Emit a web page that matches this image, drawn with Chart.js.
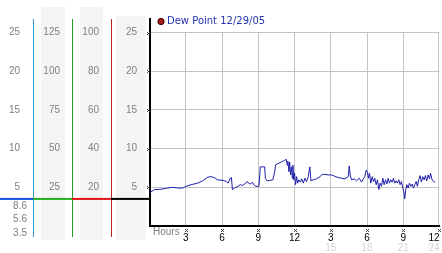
<!DOCTYPE html>
<html>
<head>
<meta charset="utf-8">
<script src="https://cdn.jsdelivr.net/npm/chart.js@4/dist/chart.umd.min.js"></script>
<style>
  html, body { margin: 0; padding: 0; background: #fff; }
  #wrap { position: relative; width: 442px; height: 253px; }
</style>
</head>
<body>
<div id="wrap"><canvas id="dewChart"></canvas></div>
<script>
const hours = [
  0.00, 0.41, 0.96, 1.51, 1.93, 2.34, 2.75, 3.02, 3.44, 3.99,
  4.40, 4.81, 5.09, 5.36, 5.64, 6.08, 6.36, 6.50, 6.69, 6.78,
  6.86, 7.05, 7.32, 7.52, 7.69, 7.88, 8.07, 8.23, 8.35, 8.51,
  8.62, 8.79, 9.06, 9.17, 9.53, 9.59, 9.72, 9.94, 10.21, 10.36,
  10.44, 10.63, 10.91, 11.18, 11.32, 11.40, 11.45, 11.54, 11.60, 11.68,
  11.76, 11.82, 11.87, 11.93, 12.01, 12.09, 12.17, 12.26, 12.36, 12.48,
  12.59, 12.73, 12.86, 13.00, 13.14, 13.27, 13.36, 13.55, 13.83, 14.10,
  14.30, 14.51, 14.79, 15.07, 15.34, 15.62, 15.89, 16.17, 16.45, 16.53,
  16.61, 16.72, 16.94, 17.13, 17.36, 17.55, 17.69, 17.82, 17.93, 18.04,
  18.12, 18.21, 18.31, 18.43, 18.54, 18.64, 18.76, 18.87, 18.98, 19.09,
  19.20, 19.31, 19.42, 19.53, 19.64, 19.75, 19.86, 19.97, 20.08, 20.19,
  20.30, 20.41, 20.52, 20.63, 20.74, 20.85, 20.96, 21.04, 21.12, 21.21,
  21.29, 21.40, 21.51, 21.62, 21.74, 21.84, 21.95, 22.07, 22.17, 22.28,
  22.40, 22.50, 22.61, 22.73, 22.83, 22.94, 23.06, 23.17, 23.26, 23.39,
  23.50, 23.64,
];
const dewPoint = [
  4.28, 4.71, 4.75, 4.91, 5.00, 4.91, 4.91, 5.13, 5.34, 5.54,
  5.84, 6.30, 6.38, 6.26, 5.97, 5.90, 5.75, 5.54, 6.17, 6.26,
  4.71, 4.91, 5.13, 5.34, 5.25, 5.42, 5.75, 5.54, 5.42, 5.63,
  5.34, 5.13, 5.13, 7.64, 7.64, 6.17, 5.84, 5.88, 5.97, 7.01,
  7.93, 8.06, 8.27, 8.48, 8.61, 7.86, 8.36, 7.01, 8.27, 6.60,
  7.64, 6.17, 7.86, 5.97, 6.80, 5.34, 6.38, 5.54, 5.97, 5.67,
  6.09, 5.54, 6.17, 5.75, 6.38, 7.64, 5.84, 5.97, 6.09, 6.38,
  6.67, 6.67, 6.60, 6.60, 6.42, 6.26, 6.17, 6.09, 6.38, 7.77,
  6.60, 5.97, 6.09, 5.84, 6.17, 5.67, 6.09, 6.38, 7.23, 7.01,
  6.17, 6.80, 5.54, 6.38, 5.75, 6.17, 5.34, 5.97, 4.71, 5.54,
  5.13, 6.17, 5.34, 5.97, 5.42, 6.17, 5.54, 5.97, 5.67, 6.17,
  5.54, 5.84, 5.54, 5.97, 5.34, 5.75, 4.91, 4.50, 3.50, 4.71,
  5.34, 4.91, 5.54, 5.13, 5.42, 4.91, 5.34, 5.75, 5.13, 5.97,
  6.51, 5.67, 6.38, 5.97, 6.51, 5.84, 6.60, 6.09, 6.80, 5.97,
  5.75, 5.67,
];

// tick 0 carries an empty label so "inner" alignment only affects the last one
const hourTicks = [0, 3, 6, 9, 12, 15, 18, 21, 24];
const hourLabels = ["", "3", "6", "9", "12", "3", "6", "9", "12"];
const lateHourTicks = [0, 15, 18, 21, 24];
const lateHourLabels = ["", "15", "18", "21", "24"];

const dewTicks = [5, 10, 15, 20, 25];
const dewTicksX5 = [25, 50, 75, 100, 125];
const dewTicksX4 = [20, 40, 60, 80, 100];
const dewMax = 26.75;

const statLabels = ["8.6", "5.6", "3.5"];
const dewMin = 3.5;

const labelFont = { family: "Liberation Sans", size: 10 };
const gridColor = "#c4c4c4";

const setTicks = (values) => (scale) => {
  scale.ticks = values.map((value) => ({ value }));
};
const fixWidth = (w) => (scale) => {
  scale.width = w;
};
const fixHeight = (h) => (scale) => {
  scale.height = h;
  scale.paddingLeft = 0;
  scale.paddingRight = 0;
};

const sideAxis = (weight, max, ticks, width, padding) => ({
  position: "left",
  weight,
  min: 0,
  max,
  afterBuildTicks: setTicks(ticks),
  afterFit: fixWidth(width),
  grid: { display: false, drawTicks: false },
  border: { display: false },
  ticks: { color: "#808080", padding, font: labelFont },
});

// grey column backgrounds + colored rule lines on the left side
const columns = [
  { id: "yA", color: "#2a9fd6", rule: "#1450e0", bg: null },
  { id: "yB", color: "#22a022", rule: "#22b022", bg: [8, 7, 7] },
  { id: "yC", color: "#c02222", rule: "#e01414", bg: [8, 8, 7] },
  { id: "y", color: null, rule: "#000000", bg: [5, 4, 16] },
];

const sidePlugin = {
  id: "sideColumns",
  beforeDraw(chart) {
    const { ctx, scales } = chart;
    ctx.save();
    ctx.fillStyle = "#f4f4f4";
    columns.forEach((col) => {
      if (!col.bg) return;
      const s = scales[col.id];
      const [l, r, top] = col.bg;
      ctx.fillRect(s.left + l, top, s.right - r - s.left - l, 240 - top);
    });
    ctx.restore();
  },
  // hour grid lines only run up to the top dew point tick
  beforeDatasetsDraw(chart) {
    const { ctx, scales, chartArea } = chart;
    const top = Math.round(scales.y.getPixelForValue(dewTicks[dewTicks.length - 1]));
    ctx.save();
    ctx.fillStyle = gridColor;
    hourTicks.filter((v) => v > 0).forEach((v) => {
      const x = Math.min(Math.round(scales.x.getPixelForValue(v) - 0.5), Math.floor(chartArea.right) - 1);
      ctx.fillRect(x, top, 1, chartArea.bottom - 1 - top);
    });
    ctx.restore();
  },
  afterDraw(chart) {
    const { ctx, scales, chartArea } = chart;
    ctx.save();
    const lineY = scales.y.getPixelForValue(dewMin);
    columns.forEach((col) => {
      const s = scales[col.id];
      if (col.color) {
        ctx.fillStyle = col.color;
        ctx.fillRect(Math.round(s.right), chartArea.top, 1, 237 - chartArea.top);
      }
      ctx.fillStyle = col.rule;
      ctx.fillRect(s.left, lineY - 1, s.right - s.left + 1, 2);
    });

    ctx.font = "10px 'Liberation Sans'";
    ctx.fillStyle = "#808080";
    ctx.textBaseline = "middle";
    ctx.textAlign = "right";
    statLabels.forEach((t, i) => {
      ctx.fillText(t, scales.yA.right - 6, lineY + 7 + i * 13.5);
    });
    ctx.textAlign = "left";
    ctx.fillText("Hours", chartArea.left + 3.5, 232);

    // tiny tick glyphs
    ctx.fillStyle = "#444";
    const mark = (x, y) => {
      ctx.fillRect(x, y, 1, 1);
      ctx.fillRect(x + 2, y, 1, 1);
      ctx.fillRect(x + 1, y + 1, 1, 1);
      ctx.fillRect(x, y + 2, 1, 1);
      ctx.fillRect(x + 2, y + 2, 1, 1);
    };
    dewTicks.forEach((v) => {
      mark(Math.round(chartArea.left) - 3, Math.round(scales.y.getPixelForValue(v)) - 1);
    });
    hourTicks.filter((v) => v > 0).forEach((v) => {
      mark(Math.min(Math.round(scales.x.getPixelForValue(v)) - 1, 438), 229);
    });
    ctx.restore();
  },
};

new Chart(document.querySelector("#dewChart"), {
  type: "line",
  data: {
    datasets: [
      {
        label: "Dew Point 12/29/05",
        data: hours.map((h, i) => ({ x: h, y: dewPoint[i] })),
        borderColor: "#1e1eaa",
        backgroundColor: "#a81414",
        borderWidth: 1,
        pointRadius: 0,
        tension: 0,
      },
    ],
  },
  options: {
    responsive: true,
    maintainAspectRatio: false,
    animation: false,
    devicePixelRatio: 1,
    layout: { autoPadding: false, padding: { top: 13, left: 0, right: 2.5, bottom: 0 } },
    plugins: {
      tooltip: { enabled: false },
      legend: {
        position: "chartArea",
        align: "start",
        title: { display: true, text: "", padding: 0, font: { size: 5 } },
        labels: {
          usePointStyle: true,
          pointStyle: "circle",
          boxWidth: 2,
          boxHeight: 4.5,
          padding: 10.5,
          color: "#2233b0",
          font: { family: "DejaVu Sans", size: 10 },
          generateLabels: (chart) =>
            Chart.defaults.plugins.legend.labels
              .generateLabels(chart)
              .map((item) => ({ ...item, strokeStyle: "#3a0a0a", lineWidth: 1 })),
        },
      },
    },
    scales: {
      x: {
        type: "linear",
        min: 0,
        max: 24,
        afterBuildTicks: setTicks(hourTicks),
        afterFit: fixHeight(16),
        grid: { drawOnChartArea: false, drawTicks: false },
        border: { color: "#000", width: 2 },
        ticks: {
          color: "#000",
          padding: 6.6,
          align: "inner",
          autoSkip: false,
          maxRotation: 0,
          font: labelFont,
          callback: (v) => hourLabels[hourTicks.indexOf(v)],
        },
      },
      x2: {
        type: "linear",
        position: "bottom",
        weight: 1,
        min: 0,
        max: 24,
        afterBuildTicks: setTicks(lateHourTicks),
        afterFit: fixHeight(11),
        grid: { display: false, drawTicks: false },
        border: { display: false },
        ticks: {
          color: "#d4d4d4",
          padding: 0,
          align: "inner",
          autoSkip: false,
          maxRotation: 0,
          font: labelFont,
          callback: (v) => lateHourLabels[lateHourTicks.indexOf(v)],
        },
      },
      y: {
        position: "left",
        min: 0,
        max: dewMax,
        afterBuildTicks: setTicks(dewTicks),
        afterFit: fixWidth(38.5),
        grid: { color: gridColor, drawTicks: false },
        border: { color: "#000", width: 2 },
        ticks: { color: "#808080", padding: 12.5, font: labelFont },
      },
      yC: sideAxis(1, dewMax * 4, dewTicksX4, 39, 12),
      yB: sideAxis(2, dewMax * 5, dewTicksX5, 39, 12),
      yA: sideAxis(3, dewMax, dewTicks, 33, 13),
    },
  },
  plugins: [sidePlugin],
});
</script>
</body>
</html>
